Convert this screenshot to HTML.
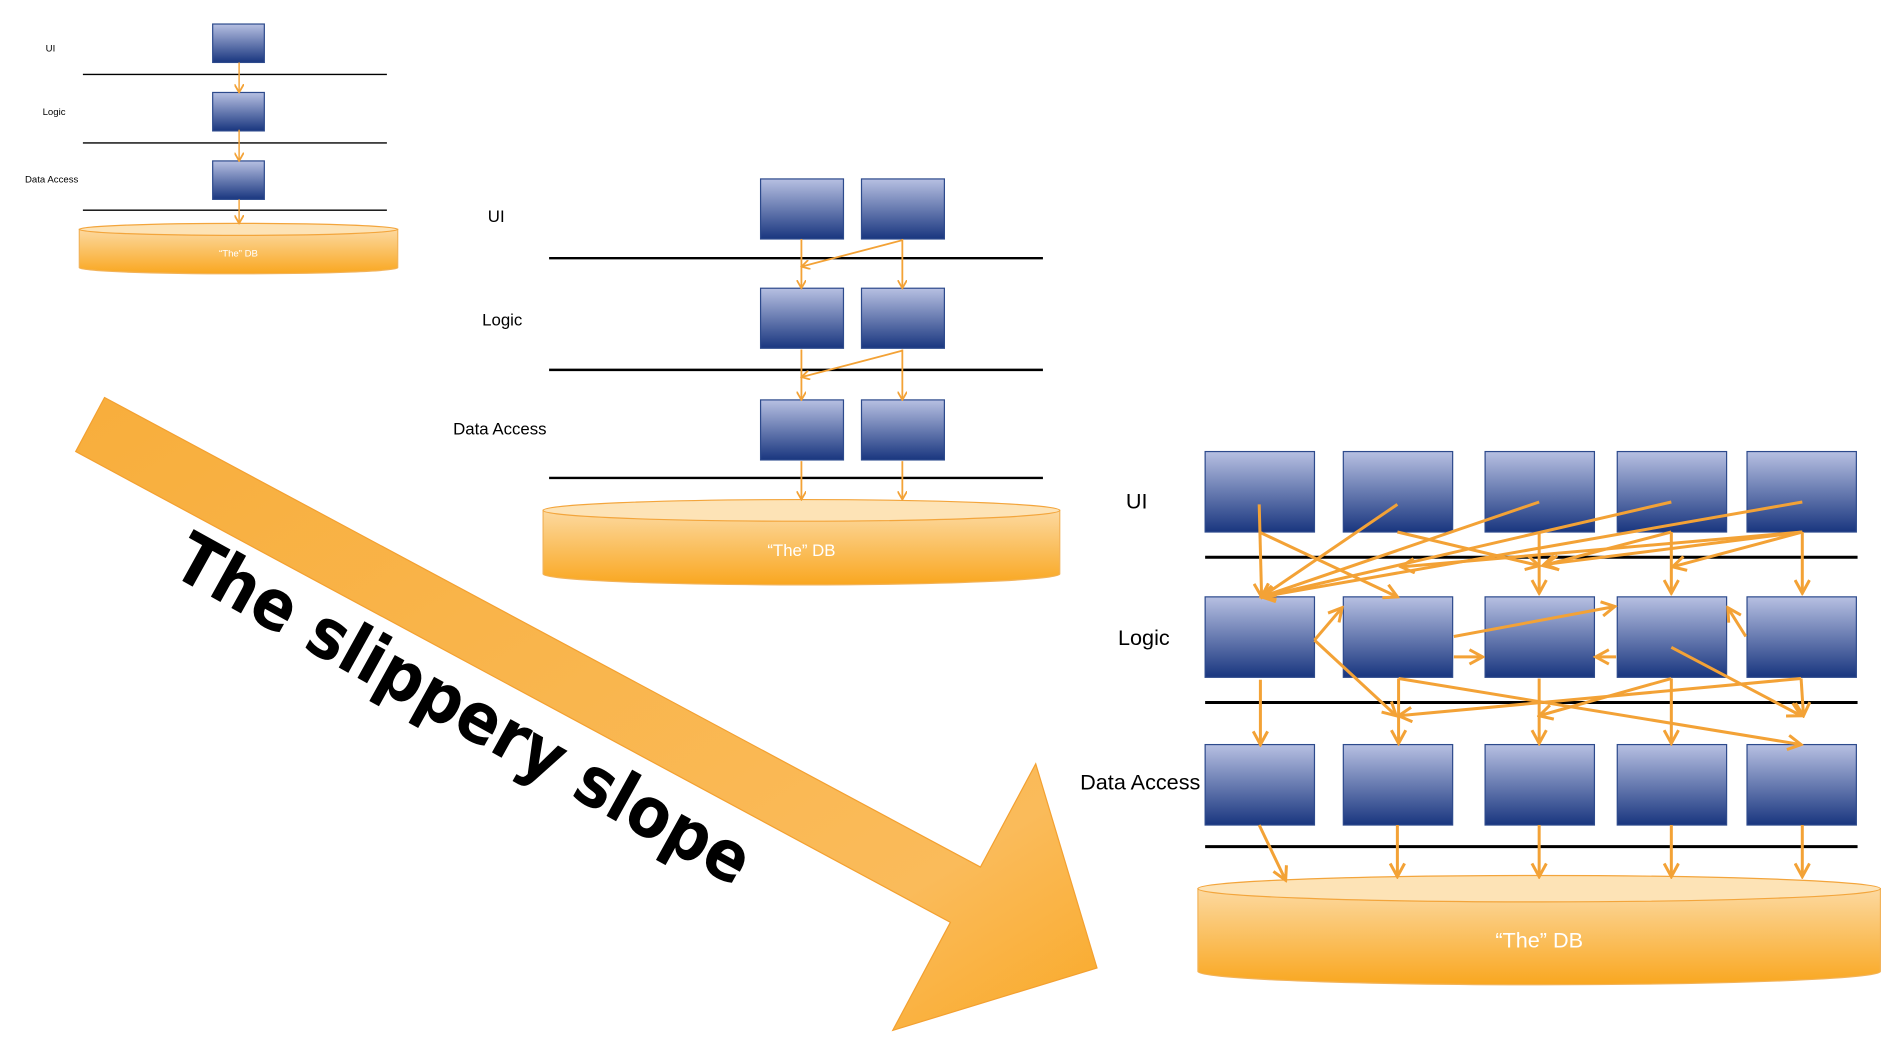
<!DOCTYPE html>
<html><head><meta charset="utf-8"><style>
html,body{margin:0;padding:0;background:#fff;}
svg{display:block;font-family:"Liberation Sans",sans-serif;}
</style></head><body>
<svg id="s" width="1884" height="1040" viewBox="0 0 1568 866" preserveAspectRatio="none" xmlns="http://www.w3.org/2000/svg">
<defs>
<linearGradient id="bx" x1="0" y1="0" x2="0" y2="1"><stop offset="0" stop-color="#b7c0e2"/><stop offset="1" stop-color="#19367f"/></linearGradient>
<linearGradient id="db" x1="0" y1="0" x2="0" y2="1"><stop offset="0" stop-color="#fcd9a0"/><stop offset="1" stop-color="#f9a720"/></linearGradient>
<linearGradient id="ar" x1="0" y1="0" x2="1" y2="1"><stop offset="0" stop-color="#f8ae3c"/><stop offset="0.8" stop-color="#fabb5a"/><stop offset="1" stop-color="#f9a928"/></linearGradient>
<marker id="ah" markerWidth="8" markerHeight="8" refX="7" refY="4" orient="auto" markerUnits="userSpaceOnUse"><path d="M0,0 L7,4 L0,8" fill="none" stroke="#f3a236" stroke-width="1.5"/></marker>
<marker id="ahb" markerWidth="14" markerHeight="14" refX="12" refY="7" orient="auto" markerUnits="userSpaceOnUse"><path d="M1,1 L12,7 L1,13" fill="none" stroke="#f3a236" stroke-width="2.5"/></marker>
</defs>
<g id="g"></g>
<polygon points="87,331 816,722 862,636 913,806 743,858 791,768 63,376" fill="url(#ar)" stroke="#f3a030" stroke-width="1"/>
<text transform="translate(376,608) rotate(29)" text-anchor="middle" font-family="'DejaVu Sans Condensed','DejaVu Sans',sans-serif" font-weight="bold" font-size="58" fill="#000">The slippery slope</text>
</svg>
<script>
const NS='http://www.w3.org/2000/svg';
const g=document.getElementById('g');
function el(t,a,txt){const e=document.createElementNS(NS,t);for(const k in a)e.setAttribute(k,a[k]);if(txt)e.textContent=txt;g.appendChild(e);return e;}
const layerNames=['UI','Logic','Data Access'];
const diagrams=[
 {cols:[177],w:43,rows:[20,77,134],h:32,lines:[62,119,175],lx:[69,322],labx:[42,45,43],laby:[40,93,149],fs:8,db:[66,331,191,5,228],dbfs:8,bw:1.2,aw:1.2,mk:'ah'},
 {cols:[633,717],w:69,rows:[149,240,333],h:50,lines:[215,308,398],lx:[457,868],labx:[413,418,416],laby:[180,266,357],fs:14,db:[452,882,425,9,487],dbfs:14,bw:2,aw:1.5,mk:'ah'},
 {cols:[1003,1118,1236,1346,1454],w:91,rows:[376,497,620],h:67,lines:[464,585,705],lx:[1003,1546],labx:[946,952,949],laby:[417,531,651],fs:18,db:[997,1565,740,11,820],dbfs:18,bw:2.5,aw:2.5,mk:'ahb'}
];
diagrams.forEach((d,di)=>{
 d.lines.forEach((y,i)=>{const l=el('line',{x1:d.lx[0],x2:d.lx[1],y1:y,y2:y,stroke:'#000','stroke-width':d.bw});
  });
 layerNames.forEach((n,i)=>{const t=el('text',{x:d.labx[i],y:d.laby[i]+d.fs*0.35,'text-anchor':'middle','font-size':d.fs,fill:'#000'},n);
  });
 const [x1,x2,cy,ry,by]=d.db;const cx=(x1+x2)/2,rx=(x2-x1)/2;
 const p=el('path',{d:`M${x1},${cy} L${x1},${by-ry} A${rx},${ry} 0 0 0 ${x2},${by-ry} L${x2},${cy} Z`,fill:'url(#db)',stroke:'#f2b35a','stroke-width':1});
 
 const e=el('ellipse',{cx:cx,cy:cy,rx:rx,ry:ry,fill:'#fde3b6',stroke:'#f3a53c','stroke-width':1});
 
 const t=el('text',{x:cx,y:(cy+by)/2+d.dbfs*0.5,'text-anchor':'middle','font-size':d.dbfs,fill:'#fff'},'\u201CThe\u201D DB');
 
 d.rows.forEach(ry2=>d.cols.forEach(cx2=>{const r=el('rect',{x:cx2,y:ry2,width:d.w,height:d.h,fill:'url(#bx)',stroke:'#2d4a8c','stroke-width':1});
  }));
});
function arr(d,a){const l=el('line',{x1:a[0],y1:a[1],x2:a[2],y2:a[3],stroke:'#f3a236','stroke-width':d.aw,'marker-end':`url(#${d.mk})`});
 }
const smallArrows=[[199,52,199,77],[199,108,199,134],[199,166,199,186]];
const midArrows=[[667,199,667,240],[751,199,751,240],[751,200,667,222],[667,291,667,333],[751,291,751,333],[751,292,667,314],[667,384,667,416],[751,384,751,416]];
const bigArrows=[[1048,420,1050,497],[1048,443,1163,497],[1163,420,1050,497],[1163,443,1281,471],[1281,418,1050,497],[1281,443,1281,494],[1391,418,1050,497],[1391,443,1391,494],[1391,443,1284,471],
[1500,418,1050,497],[1500,443,1500,494],[1500,443,1166,472],[1500,443,1286,470],[1500,443,1392,472],
[1094,533,1117,506],[1094,533,1162,596],[1210,530,1344,505],[1210,547,1234,547],[1345,547,1328,547],[1453,530,1438,506],[1391,539,1499,596],
[1049,566,1049,620],[1164,565,1164,619],[1164,565,1499,620],[1281,565,1281,619],[1391,565,1391,619],[1391,565,1281,596],[1499,565,1501,596],[1499,565,1164,596],
[1048,687,1070,733],[1163,687,1163,730],[1281,687,1281,730],[1391,687,1391,730],[1500,687,1500,730]];
smallArrows.forEach(a=>arr(diagrams[0],a));
midArrows.forEach(a=>arr(diagrams[1],a));
bigArrows.forEach(a=>arr(diagrams[2],a));
</script>
</body></html>
